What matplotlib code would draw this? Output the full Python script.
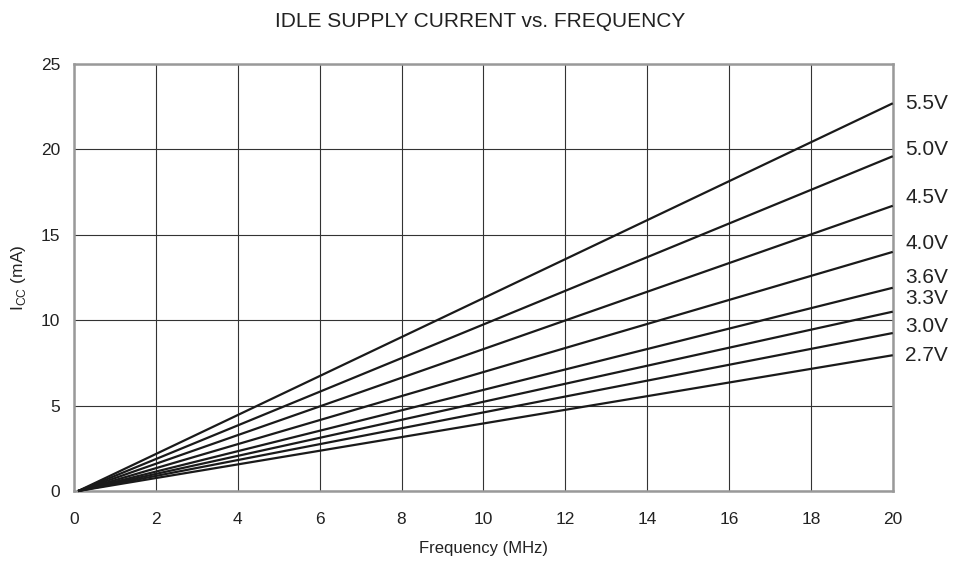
import numpy as np
import matplotlib
matplotlib.use('Agg')
import matplotlib.pyplot as plt

plt.rcParams['font.family'] = ['Liberation Sans', 'DejaVu Sans']

# Curve data: supply voltage, current at 20 MHz (lines start near 0.1 MHz, 0 mA)
voltages = ['5.5V', '5.0V', '4.5V', '4.0V', '3.6V', '3.3V', '3.0V', '2.7V']
freq_start = 0.1
freq_end = 20
icc_end = [22.7, 19.6, 16.7, 14.0, 11.9, 10.5, 9.25, 7.95]
# Label vertical positions (mA) to the right of the plot
label_y = [22.7, 20.0, 17.2, 14.5, 12.5, 11.3, 9.65, 7.95]

fig = plt.figure(figsize=(9.61, 5.64), dpi=100)
ax = fig.add_axes([0.077, 0.1294, 0.852, 0.7571])

for v, end in zip(voltages, icc_end):
    ax.plot([freq_start, freq_end], [0, end], color='#1a1a1a', lw=1.6,
            solid_capstyle='butt', clip_on=False, zorder=3)

for v, ly in zip(voltages, label_y):
    ax.text(20.3, ly, v, fontsize=15, color='#222222', va='center', ha='left')

ax.set_xlim(0, 20)
ax.set_ylim(0, 25)
ax.set_xticks(np.arange(0, 21, 2))
ax.set_yticks(np.arange(0, 26, 5))
ax.grid(True, color='#333333', lw=0.8)
ax.tick_params(length=0, labelsize=12.5, colors='#222222')
ax.tick_params(axis='x', pad=15)
ax.tick_params(axis='y', pad=10)
for s in ax.spines.values():
    s.set_color('#999999')
    s.set_linewidth(1.8)

ax.set_xlabel('Frequency (MHz)', fontsize=12, color='#222222', labelpad=10)
ax.set_ylabel('I$_{\\mathregular{CC}}$ (mA)', fontsize=12.5, color='#222222', labelpad=9)
fig.text(0.5, 0.962, 'IDLE SUPPLY CURRENT vs. FREQUENCY', ha='center', va='center',
         fontsize=15, color='#222222')

fig.savefig('out.png', dpi=100)
